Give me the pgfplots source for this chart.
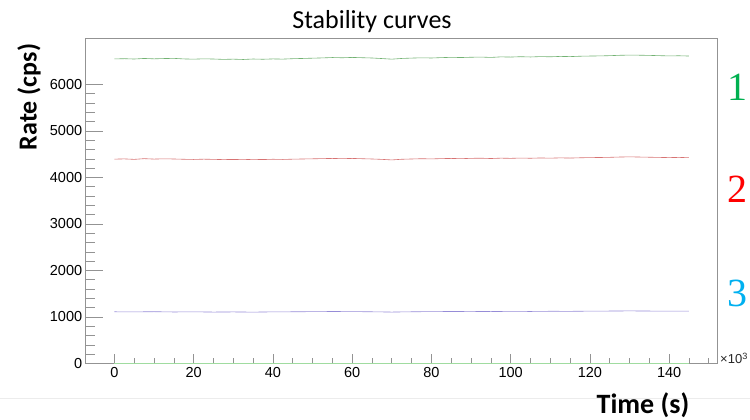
\documentclass[border=0pt]{standalone}
\usepackage{fontspec}
\setmainfont{Liberation Sans}
\newfontfamily\carlito{Carlito}
\newfontfamily\serifnum{Liberation Serif}
\usepackage{pgfplots}
\pgfplotsset{compat=1.18}
\definecolor{gline}{RGB}{115,178,115}
\definecolor{rline}{RGB}{215,115,115}
\definecolor{pline}{RGB}{150,140,215}
\definecolor{zline}{RGB}{160,220,160}
\definecolor{lab1}{RGB}{0,176,80}
\definecolor{lab2}{RGB}{255,0,0}
\definecolor{lab3}{RGB}{0,176,240}
\begin{document}
\begin{tikzpicture}
\path[use as bounding box] (0pt,0pt) rectangle (750pt,420pt);
\draw[gray!15, line width=0.8pt] (0pt,22pt) -- (750pt,22pt);
\begin{axis}[at={(85.7pt,56.5pt)}, anchor=south west, scale only axis,
  width=632pt, height=325.5pt,
  xmin=-7.25, xmax=152.25, ymin=0, ymax=7000,
  axis line style={gray!85, line width=0.7pt},
  every tick/.style={gray!85, line width=0.6pt},
  tick align=inside, xtick pos=bottom, ytick pos=left,
  major tick length=17pt, minor tick length=9pt,
  xtick={0,20,...,140}, x tick style={draw=none},
  ytick={0,1000,...,6000}, minor y tick num=4,
  /pgf/number format/1000 sep={},
  /pgf/number format/assume math mode=true,
  tick label style={font=\fontsize{14.5}{14.5}\selectfont},
  clip=false]
\addplot[zline, line width=0.8pt] coordinates {(0,0) (145,0)};
\addplot[gline, line width=0.6pt] coordinates {
(0,6550) (2.5,6555) (5,6548) (7.5,6560) (10,6552) (12.5,6558) (15,6562) (17.5,6550) (20,6545) (22.5,6552)
(25,6548) (27.5,6540) (30,6545) (32.5,6538) (35,6548) (37.5,6543) (40,6550) (42.5,6546) (45,6555) (47.5,6560)
(50,6566) (52.5,6572) (55,6580) (57.5,6575) (60,6582) (62.5,6576) (65,6570) (67.5,6558) (70,6545) (72.5,6560)
(75,6568) (77.5,6574) (80,6570) (82.5,6578) (85,6584) (87.5,6580) (90,6586) (92.5,6590) (95,6582) (97.5,6594)
(100,6590) (102.5,6598) (105,6592) (107.5,6600) (110,6596) (112.5,6604) (115,6600) (117.5,6608) (120,6612) (122.5,6615)
(125,6620) (127.5,6628) (130,6632) (132.5,6630) (135,6626) (137.5,6620) (140,6615) (142.5,6618) (145,6612)};
\addplot[rline, line width=0.6pt] coordinates {
(0,4395) (2.5,4400) (5,4390) (7.5,4405) (10,4396) (12.5,4402) (15,4398) (17.5,4392) (20,4388) (22.5,4394)
(25,4390) (27.5,4385) (30,4388) (32.5,4384) (35,4390) (37.5,4386) (40,4392) (42.5,4388) (45,4394) (47.5,4398)
(50,4402) (52.5,4406) (55,4410) (57.5,4405) (60,4410) (62.5,4404) (65,4398) (67.5,4390) (70,4378) (72.5,4392)
(75,4398) (77.5,4404) (80,4400) (82.5,4406) (85,4410) (87.5,4405) (90,4412) (92.5,4415) (95,4408) (97.5,4416)
(100,4412) (102.5,4418) (105,4414) (107.5,4420) (110,4416) (112.5,4422) (115,4418) (117.5,4424) (120,4428) (122.5,4430)
(125,4434) (127.5,4440) (130,4444) (132.5,4440) (135,4436) (137.5,4432) (140,4428) (142.5,4432) (145,4426)};
\addplot[pline, line width=0.6pt] coordinates {
(0,1112) (5,1110) (10,1114) (15,1108) (20,1111) (25,1106) (30,1109) (35,1105) (40,1110) (45,1112)
(50,1115) (55,1118) (60,1116) (65,1112) (70,1106) (75,1112) (80,1116) (85,1118) (90,1120) (95,1117)
(100,1121) (105,1119) (110,1123) (115,1122) (120,1126) (125,1128) (130,1131) (135,1128) (140,1126) (145,1125)};
\foreach \xx in {0,20,...,140} {
  \edef\tmp{\noexpand\draw[gray!85, line width=0.6pt] (axis cs:\xx,0) -- ++(0pt,9pt);}\tmp}
\foreach \xx in {5,10,15,25,30,35,45,50,55,65,70,75,85,90,95,105,110,115,125,130,135,145,150} {
  \edef\tmp{\noexpand\draw[gray!85, line width=0.6pt] (axis cs:\xx,0) -- ++(0pt,5pt);}\tmp}
\node[anchor=west, gray!30!black, font=\fontsize{13}{13}\selectfont] at (rel axis cs:1,0) [yshift=5pt, xshift=-1pt] {×10\textsuperscript{3}};
\end{axis}
\node[font=\carlito\fontsize{26}{26}\selectfont] at (372pt,398pt) {Stability curves};
\node[font=\carlito\bfseries\fontsize{26}{26}\selectfont, rotate=90] at (29pt,323pt) {Rate (cps)};
\node[font=\carlito\bfseries\fontsize{28}{28}\selectfont] at (643pt,15pt) {Time (s)};
\node[font=\serifnum\fontsize{40}{40}\selectfont, text=lab1] at (737pt,333pt) {1};
\node[font=\serifnum\fontsize{40}{40}\selectfont, text=lab2] at (737pt,231pt) {2};
\node[font=\serifnum\fontsize{40}{40}\selectfont, text=lab3] at (737pt,127pt) {3};
\end{tikzpicture}
\end{document}
